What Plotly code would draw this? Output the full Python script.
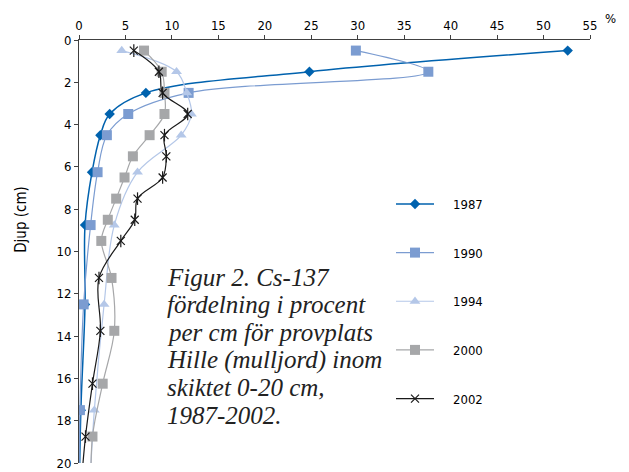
import plotly.graph_objects as go

# ---- data ----
depth_a = [0.5, 1.5, 2.5, 3.5, 4.5, 6.25, 8.75, 12.5, 17.5, 22.5]
depth_b = [0.5, 1.5, 2.5, 3.5, 4.5, 5.5, 6.5, 7.5, 8.5, 9.5, 11.25, 13.75, 16.25, 18.75, 21.25]

y1987 = [52.6, 24.8, 7.2, 3.3, 2.3, 1.4, 0.65, 0.65, 0.2, 0.0]
y1990 = [29.8, 37.6, 11.8, 5.3, 3.0, 2.0, 1.25, 0.5, 0.1, 0.0]
y1994 = [4.6, 10.5, 11.6, 12.1, 11.0, 6.3, 3.8, 2.7, 1.65, 1.0]
y2000 = [7.0, 8.9, 9.2, 9.2, 7.6, 5.8, 4.9, 4.0, 3.1, 2.4, 3.5, 3.8, 2.55, 1.45, 1.3]
y2002 = [5.9, 8.6, 9.0, 11.7, 9.2, 9.4, 9.0, 6.3, 6.0, 4.5, 2.15, 2.3, 1.45, 0.7, 0.2]

x_ticks = list(range(0, 56, 5))
y_ticks = list(range(0, 21, 2))

caption_lines = ["Figur 2. Cs-137", "fördelning i procent", "per cm för provplats",
                 "Hille (mulljord) inom", "skiktet 0-20 cm,", "1987-2002."]

series = [
    ("1987", y1987, depth_a, "#0062AE", "diamond", 8, 1.5),
    ("1990", y1990, depth_a, "#7B9CD1", "square", 10, 1.2),
    ("1994", y1994, depth_a, "#B4C7E8", "triangle-up", 9.5, 1.2),
    ("2000", y2000, depth_b, "#A6A7A9", "square", 10, 1.2),
    ("2002", y2002, depth_b, "#1A1A1A", "x-thin-open", 8, 1.2),
]

# page body has an 8px default margin: compensate
W, H = 621, 464
L, R, T, B = 71, 39, 32, 9
PW, PH = W - L - R, H - T - B

fig = go.Figure()
for name, xs, ys, col, sym, msize, lw in series:
    fig.add_trace(go.Scatter(
        x=xs, y=ys, name="\u2002\u2002\u2009" + name, mode="lines+markers",
        line=dict(color=col, width=lw, shape="spline", smoothing=1.0),
        marker=dict(symbol=sym, size=msize, color=col,
                    line=dict(color=col, width=1.2 if "open" in sym else 0)),
        legendgroup=name,
    ))
    if sym == "x-thin-open":
        # vertical bar completing the Excel-style star marker
        fig.add_trace(go.Scatter(
            x=xs, y=ys, mode="markers", showlegend=False, legendgroup=name,
            marker=dict(symbol="line-ns-open", size=9, color=col,
                        line=dict(color=col, width=1.2)),
            hoverinfo="skip",
        ))

font_sans = "DejaVu Sans Condensed, DejaVu Sans, sans-serif"

fig.update_layout(
    width=W, height=H,
    margin=dict(l=L, r=R, t=T, b=B),
    paper_bgcolor="white", plot_bgcolor="white",
    font=dict(family=font_sans, size=13, color="black"),
    showlegend=True,
    legend=dict(x=(383 - L) / PW, y=1 - (181 - T) / PH, xanchor="left", yanchor="top",
                traceorder="grouped", tracegroupgap=28.75,
                font=dict(size=13, family=font_sans), bgcolor="rgba(0,0,0,0)",
                itemwidth=38),
    xaxis=dict(side="top", range=[0, 55], tickvals=x_ticks, showline=True,
               linecolor="#404040", linewidth=1, ticks="outside", ticklen=4,
               tickcolor="#404040", showgrid=False, zeroline=False,
               tickfont=dict(size=13), automargin=False),
    yaxis=dict(range=[20, 0], tickvals=y_ticks, showline=True,
               linecolor="#404040", linewidth=1, ticks="outside", ticklen=4,
               tickcolor="#404040", showgrid=False, zeroline=False,
               tickfont=dict(size=13), automargin=False),
)

fig.add_annotation(text="%", xref="paper", yref="paper", x=1.04, y=1.0,
                   yshift=22, showarrow=False, xanchor="center", yanchor="middle",
                   font=dict(size=13))
fig.add_annotation(text="Djup (cm)", xref="paper", yref="y", x=(13 - L) / PW, y=8.5,
                   textangle=-90, showarrow=False, xanchor="center", yanchor="middle",
                   font=dict(size=15))

for i, line in enumerate(caption_lines):
    center_win = 274 + 27.6 * i
    ypix = center_win - 5
    fig.add_annotation(text=line, xref="paper", yref="paper",
                       x=(157 - L) / PW, y=1 - (ypix - T) / PH,
                       xanchor="left", yanchor="middle", align="left", showarrow=False,
                       font=dict(family="Liberation Serif, serif", size=25, color="#222222",
                                 style="italic"))

fig.write_html("out.html")
